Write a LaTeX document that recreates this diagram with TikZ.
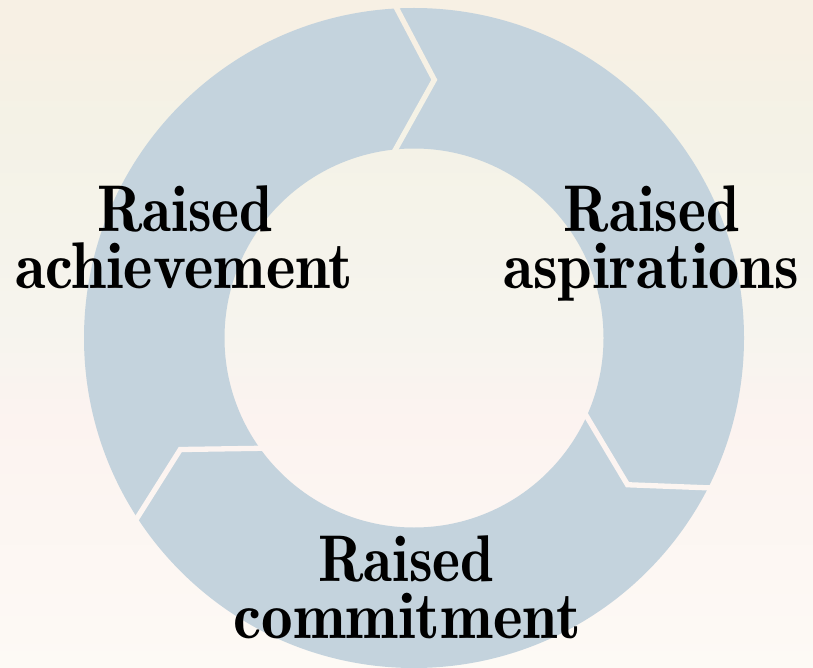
\documentclass[tikz,border=0pt]{standalone}
\usepackage{fontspec}
\usetikzlibrary{calc}
\newfontfamily\lblfont{lmromandemi10-regular.otf}
\definecolor{ringblue}{RGB}{196,211,221}
\definecolor{bgA}{RGB}{247,240,228}
\definecolor{bgB}{RGB}{244,242,230}
\definecolor{bgC}{RGB}{246,244,238}
\definecolor{bgD}{RGB}{252,243,240}
\definecolor{bgE}{RGB}{253,250,245}
\pgfdeclareverticalshading{bgshade}{100bp}{color(0bp)=(bgE); color(25bp)=(bgE); color(43.5bp)=(bgD); color(50.3bp)=(bgC); color(66bp)=(bgB); color(72bp)=(bgA); color(100bp)=(bgA)}
\tikzset{lbl/.style={anchor=base, inner sep=0pt, font=\lblfont\fontsize{66}{70}\selectfont}}
\newcommand{\cond}[2]{\scalebox{#1}[1]{#2}}
\begin{document}
\begin{tikzpicture}[x=1pt,y=1pt]
\useasboundingbox (0,0) rectangle (813,-668);
\shade[shading=bgshade] (0,0) rectangle (813,-668);
\coordinate (C) at (414,-338);
\fill[ringblue, even odd rule] (C) circle[radius=330] (C) circle[radius=189.5];
\foreach \a in {0,-120,-240}{
  \coordinate (O) at ($(C)+({93+\a}:330)$);
  \coordinate (T) at ($(C)+({85.5+\a}:259)$);
  \coordinate (I) at ($(C)+({95.6+\a}:189.5)$);
  \coordinate (O1) at ($(T)!1.3!(O)$);
  \coordinate (I1) at ($(T)!1.3!(I)$);
  \coordinate (O1p) at ($(O1)!2.65pt!90:(T)$);
  \coordinate (Tp1) at ($(T)!2.65pt!-90:(O1)$);
  \coordinate (O1m) at ($(O1)!2.65pt!-90:(T)$);
  \coordinate (Tm1) at ($(T)!2.65pt!90:(O1)$);
  \coordinate (Tp2) at ($(T)!2.65pt!90:(I1)$);
  \coordinate (I1p) at ($(I1)!2.65pt!-90:(T)$);
  \coordinate (Tm2) at ($(T)!2.65pt!-90:(I1)$);
  \coordinate (I1m) at ($(I1)!2.65pt!90:(T)$);
  \coordinate (Xp) at (intersection of O1p--Tp1 and Tp2--I1p);
  \coordinate (Xm) at (intersection of O1m--Tm1 and Tm2--I1m);
  \begin{scope}
    \clip (O1p) -- (Xp) -- (I1p) -- (I1m) -- (Xm) -- (O1m) -- cycle;
    \shade[shading=bgshade] (0,0) rectangle (813,-668);
  \end{scope}
}
\node[lbl] (r1) at (185,-231.5) {\cond{0.904}{Raised}};
\node[lbl] (a1) at (184,-288.5) {\cond{0.95}{achievement}};
\node[lbl] (r2) at (651.5,-231.5) {\cond{0.904}{Raised}};
\node[lbl] (a2) at (651,-288.5) {\cond{0.944}{aspirations}};
\node[lbl] (r3) at (406,-581) {\cond{0.904}{Raised}};
\node[lbl] (a3) at (407,-638) {\cond{0.957}{commitment}};
\end{tikzpicture}
\end{document}
